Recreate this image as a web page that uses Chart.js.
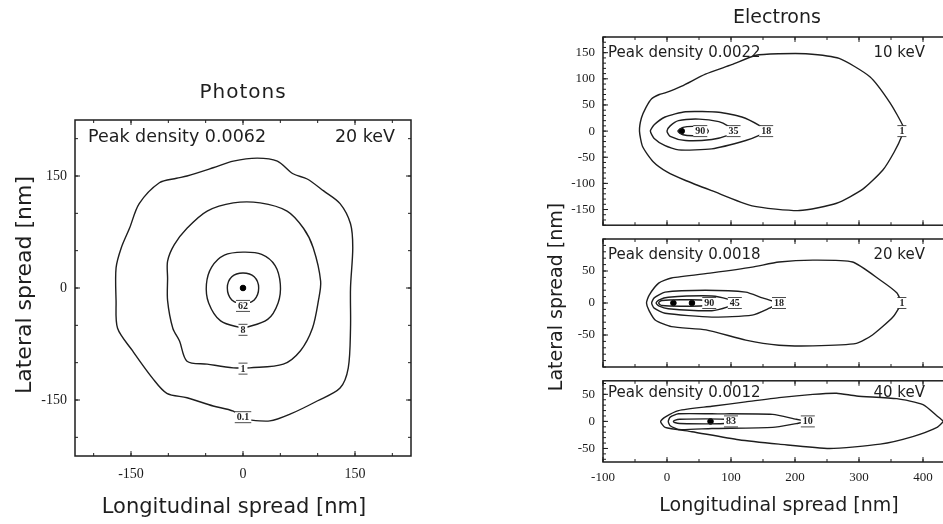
<!DOCTYPE html>
<html>
<head>
<meta charset="utf-8">
<title>Photons / Electrons spread</title>
<script src="https://cdn.jsdelivr.net/npm/chart.js@4.4.0/dist/chart.umd.min.js"></script>
<style>
  html, body { margin: 0; padding: 0; background: #fff; overflow: hidden; }
  body { width: 943px; height: 524px; position: relative; }
  canvas { position: absolute; }
</style>
</head>
<body>
<canvas id="photons" width="480" height="524" style="left:0;top:0"></canvas>
<canvas id="e10" width="520" height="241" style="left:463px;top:0"></canvas>
<canvas id="e20" width="520" height="300" style="left:463px;top:150px"></canvas>
<canvas id="e40" width="520" height="159" style="left:463px;top:365px"></canvas>
<script>
// ---- data (nm) ----

// Photons, 20 keV
const photonTicks = [-150, 0, 150];
const photonContour01 = [[0,-176],[-13,-165],[-40,-158],[-75,-147],[-102,-141],[-121,-121],[-148,-84],[-168,-54],[-170,-17],[-170,27],[-163,54],[-152,80],[-139,113],[-112,141],[-89,147],[-75,150],[-40,161],[-13,170],[19,174],[46,170],[67,153],[86,146],[108,130],[130,113],[144,86],[147,54],[144,0],[144,-54],[141,-107],[130,-134],[100,-151],[63,-169],[36,-178],[0,-176]];
const photonContour1 = [[0,-107],[-13,-107],[-48,-102],[-75,-98],[-85,-71],[-94,-54],[-101,-17],[-101,13],[-101,36],[-92,58],[-75,80],[-48,103],[-13,114],[23,114],[59,103],[81,80],[94,54],[104,9],[101,-17],[93,-54],[77,-84],[54,-102],[9,-107],[0,-107]];
const photonContour8 = [[0,-54],[-30,-44],[-46,-20],[-49,5],[-42,28],[-25,44],[0,48],[25,45],[43,30],[50,5],[47,-20],[33,-42],[0,-54]];
const photonContour62 = [[0,-22],[-15,-16],[-21,0],[-15,15],[0,20],[15,15],[21,0],[15,-16],[0,-22]];
const photonPeak = [[0, 0]];
const photonLabels = [['62', 0, -24], ['8', 0, -56], ['1', 0, -108], ['0.1', 0, -173]];

// Electrons
const electronXTicks = [-100, 0, 100, 200, 300, 400];
const e10YTicks = [-150, -100, -50, 0, 50, 100, 150];
const e20YTicks = [-50, 0, 50];
const e40YTicks = [-50, 0, 50];

// 10 keV
const e10Outer = [[367,0],[369,9],[348,55],[317,104],[269,139],[217,148],[175,148],[139,145],[101,127],[60,109],[23,86],[-3,73],[-12,70],[-24,62],[-33,45],[-40,25],[-43,0],[-38,-30],[-22,-58],[0,-78],[30,-95],[70,-114],[133,-143],[207,-152],[265,-138],[306,-111],[337,-75],[355,-40],[367,-9],[367,0]];
const e10Contour18 = [[155,0],[144,11],[117,27],[81,36],[29,37],[-3,27],[-20,12],[-26,0],[-20,-14],[-3,-28],[18,-36],[70,-34],[123,-18],[144,-8],[155,0]];
const e10Contour35 = [[104,0],[95,10],[81,18],[50,23],[18,20],[5,10],[0,0],[5,-10],[29,-18],[70,-16],[95,-8],[104,0]];
const e10Contour90 = [[65,0],[60,7],[40,9],[25,7],[17,0],[25,-7],[40,-9],[60,-7],[65,0]];
const e10Peak = [[23, 0]];
const e10Labels = [['90', 52, 0], ['35', 104, 0], ['18', 155, 0], ['1', 367, 0]];

// 20 keV
const e20Outer = [[367,0],[359,16],[333,36],[290,64],[228,67],[175,64],[133,56],[70,47],[7,39],[-13,31],[-28,12],[-32,0],[-28,-12],[-18,-27],[7,-37],[61,-42],[123,-58],[175,-66],[228,-67],[296,-63],[321,-50],[353,-22],[367,0]];
const e20Contour18 = [[175,0],[149,8],[123,17],[60,20],[-3,17],[-20,8],[-24,0],[-20,-8],[-3,-16],[70,-22],[133,-19],[160,-8],[175,0]];
const e20Contour45 = [[106,0],[95,6],[70,11],[2,9],[-12,5],[-17,0],[-12,-5],[2,-9],[70,-12],[95,-6],[106,0]];
const e20Contour90 = [[66,0],[62,4],[30,5],[-8,4],[-13,0],[-8,-4],[30,-5],[62,-4],[66,0]];
const e20Peak = [[39, 0], [10, 0]];
const e20Labels = [['90', 66, 0], ['45', 106, 0], ['18', 175, 0], ['1', 367, 0]];

// 40 keV
const e40Outer = [[432,0],[424,8],[400,31],[359,42],[296,47],[265,52],[228,50],[175,44],[123,36],[70,28],[18,20],[-3,8],[-10,0],[-3,-11],[39,-19],[112,-34],[175,-42],[254,-50],[333,-42],[384,-28],[422,-11],[432,0]];
const e40Contour10 = [[220,0],[202,4],[165,13],[70,14],[18,14],[5,8],[2,0],[5,-8],[18,-15],[70,-13],[165,-11],[202,-4],[220,0]];
const e40Contour83 = [[100,0],[90,4],[20,4],[12,2],[10,0],[12,-2],[20,-4],[90,-4],[100,0]];
const e40Peak = [[68, 0]];
const e40Labels = [['83', 100, 0], ['10', 220, 0]];

// ---- drawing ----
const INK = '#1e1e1e';
const SANS = '"DejaVu Sans", sans-serif';
const SERIF = '"Liberation Serif", serif';

function contour(points, tension) {
    return {
        data: points.map(([x, y]) => ({ x, y })),
        showLine: true,
        pointRadius: 0,
        borderColor: INK,
        borderWidth: 1.4,
        tension: tension,
        fill: false
    };
}

function peak(points) {
    return {
        data: points.map(([x, y]) => ({ x, y })),
        showLine: false,
        pointRadius: 2.8,
        backgroundColor: '#000',
        borderColor: '#000'
    };
}

function steps(min, max, step) {
    const out = [];
    for (let v = Math.ceil(min / step) * step; v <= max; v += step) out.push(v);
    return out;
}

// border, inward tick marks, contour labels and all the text
const decor = {
    id: 'decor',
    afterDatasetsDraw(chart, args, o) {
        const { ctx, chartArea: a, scales: { x, y } } = chart;
        ctx.save();

        // contour labels sit on a white patch that cuts the line
        ctx.font = 'bold 10px ' + SERIF;
        ctx.textAlign = 'center';
        ctx.textBaseline = 'middle';
        (o.labels || []).forEach(([t, vx, vy]) => {
            const px = x.getPixelForValue(vx), py = y.getPixelForValue(vy);
            const w = ctx.measureText(t).width + 4;
            ctx.fillStyle = '#fff';
            ctx.fillRect(px - w / 2, py - 5.5, w, 11);
            ctx.strokeStyle = INK;
            ctx.lineWidth = 0.8;
            ctx.beginPath();
            ctx.moveTo(px - w / 2, py - 5.5); ctx.lineTo(px + w / 2, py - 5.5);
            ctx.moveTo(px - w / 2, py + 5.5); ctx.lineTo(px + w / 2, py + 5.5);
            ctx.stroke();
            ctx.fillStyle = INK;
            ctx.fillText(t, px, py + 0.5);
        });

        // frame
        ctx.strokeStyle = INK;
        ctx.lineWidth = 1.5;
        ctx.strokeRect(a.left, a.top, a.width, a.height);

        // ticks pointing inward on all four sides
        ctx.lineWidth = 1;
        ctx.beginPath();
        const tickX = (vals, len) => vals.forEach(v => {
            const p = x.getPixelForValue(v);
            if (p < a.left || p > a.right) return;
            ctx.moveTo(p, a.bottom); ctx.lineTo(p, a.bottom - len);
            ctx.moveTo(p, a.top); ctx.lineTo(p, a.top + len);
        });
        const tickY = (vals, len) => vals.forEach(v => {
            const p = y.getPixelForValue(v);
            if (p < a.top || p > a.bottom) return;
            ctx.moveTo(a.left, p); ctx.lineTo(a.left + len, p);
            ctx.moveTo(a.right, p); ctx.lineTo(a.right - len, p);
        });
        tickX(o.xMajor, 5); tickX(o.xMinor, 3);
        tickY(o.yMajor, 5); tickY(o.yMinor, 3);
        ctx.stroke();

        // peak density / energy notes
        ctx.fillStyle = INK;
        ctx.textBaseline = 'middle';
        ctx.font = o.noteSize + 'px ' + SANS;
        ctx.textAlign = 'left';
        ctx.fillText(o.peakText, a.left + o.noteInset, a.top + o.noteDrop);
        ctx.textAlign = 'right';
        ctx.fillText(o.energyText, a.right - o.energyInset, a.top + o.noteDrop);

        // titles
        ctx.textAlign = 'center';
        if (o.title) {
            ctx.font = o.title.size + 'px ' + SANS;
            ctx.letterSpacing = (o.title.spacing || 0) + 'px';
            ctx.fillText(o.title.text, (a.left + a.right) / 2 + (o.title.dx || 0), a.top - o.title.rise);
            ctx.letterSpacing = '0px';
        }
        if (o.xTitle) {
            ctx.font = o.xTitle.size + 'px ' + SANS;
            ctx.fillText(o.xTitle.text, (a.left + a.right) / 2 + (o.xTitle.dx || 0), a.bottom + o.xTitle.drop);
        }
        if (o.yTitle) {
            ctx.font = o.yTitle.size + 'px ' + SANS;
            ctx.translate(a.left - o.yTitle.gap, (a.top + a.bottom) / 2 + (o.yTitle.dy || 0));
            ctx.rotate(-Math.PI / 2);
            ctx.fillText(o.yTitle.text, 0, 0);
        }
        ctx.restore();
    }
};

function makeChart(id, cfg) {
    const tickFont = { family: SERIF, size: cfg.tickSize };
    return new Chart(document.getElementById(id), {
        type: 'scatter',
        data: { datasets: cfg.datasets },
        options: {
            responsive: false,
            animation: false,
            events: [],
            layout: { padding: cfg.padding },
            scales: {
                x: {
                    type: 'linear',
                    min: cfg.xMin, max: cfg.xMax,
                    display: cfg.showX,
                    grid: { display: false, drawTicks: false },
                    border: { display: false },
                    afterBuildTicks: ax => { ax.ticks = cfg.xTicks.map(v => ({ value: v })); },
                    afterFit: ax => { ax.height = cfg.xHeight; },
                    ticks: { font: tickFont, color: '#1a1a1a', padding: cfg.xPad, maxRotation: 0, callback: v => String(v) }
                },
                y: {
                    type: 'linear',
                    min: cfg.yMin, max: cfg.yMax,
                    grid: { display: false, drawTicks: false },
                    border: { display: false },
                    afterBuildTicks: ax => { ax.ticks = cfg.yTicks.map(v => ({ value: v })); },
                    afterFit: ax => { ax.width = cfg.yWidth; },
                    ticks: { font: tickFont, color: '#1a1a1a', padding: 8, callback: v => String(v) }
                }
            },
            plugins: {
                legend: { display: false },
                tooltip: { enabled: false },
                decor: Object.assign({
                    xMajor: cfg.xTicks,
                    xMinor: steps(cfg.xMin, cfg.xMax, cfg.xMinorStep),
                    yMajor: cfg.yTicks,
                    yMinor: steps(cfg.yMin, cfg.yMax, cfg.yMinorStep)
                }, cfg.decor)
            }
        },
        plugins: [decor]
    });
}

// Photons panel
makeChart('photons', {
    datasets: [
        contour(photonContour01, 0.3), contour(photonContour1, 0.3),
        contour(photonContour8, 0.35), contour(photonContour62, 0.4),
        peak(photonPeak)
    ],
    padding: { left: 0, right: 69, top: 120, bottom: 0 },
    xMin: -225, xMax: 225, yMin: -225, yMax: 225,
    xTicks: photonTicks, yTicks: photonTicks,
    xMinorStep: 50, yMinorStep: 50,
    showX: true, xHeight: 68, xPad: 10, yWidth: 75, tickSize: 14,
    decor: {
        labels: photonLabels,
        peakText: 'Peak density 0.0062', energyText: '20 keV',
        noteSize: 17.5, noteInset: 13, energyInset: 16, noteDrop: 17,
        title: { text: 'Photons', size: 20, spacing: 1, rise: 27 },
        xTitle: { text: 'Longitudinal spread [nm]', size: 21, drop: 52, dx: -9 },
        yTitle: { text: 'Lateral spread [nm]', size: 22, gap: 50, dy: -3 }
    }
});

// Electrons panels (shared x range)
const eBase = {
    xMin: -100, xMax: 450, xTicks: electronXTicks,
    xMinorStep: 50, yWidth: 140, tickSize: 13, xPad: 8
};

makeChart('e10', Object.assign({}, eBase, {
    datasets: [
        contour(e10Outer, 0.2), contour(e10Contour18, 0.2),
        contour(e10Contour35, 0.25), contour(e10Contour90, 0.3),
        peak(e10Peak)
    ],
    padding: { left: 0, right: 28, top: 37, bottom: 2 },
    yMin: -180, yMax: 180, yTicks: e10YTicks, yMinorStep: 10,
    showX: false, xHeight: 0,
    decor: {
        labels: e10Labels,
        peakText: 'Peak density 0.0022', energyText: '10 keV',
        noteSize: 15, noteInset: 5, energyInset: 30, noteDrop: 16,
        title: { text: 'Electrons', size: 19, rise: 19, dx: -2 }
    }
}));

makeChart('e20', Object.assign({}, eBase, {
    datasets: [
        contour(e20Outer, 0.2), contour(e20Contour18, 0.2),
        contour(e20Contour45, 0.25), contour(e20Contour90, 0.3),
        peak(e20Peak)
    ],
    padding: { left: 0, right: 28, top: 89, bottom: 83 },
    yMin: -100, yMax: 100, yTicks: e20YTicks, yMinorStep: 10,
    showX: false, xHeight: 0,
    decor: {
        labels: e20Labels,
        peakText: 'Peak density 0.0018', energyText: '20 keV',
        noteSize: 15, noteInset: 5, energyInset: 30, noteDrop: 16,
        yTitle: { text: 'Lateral spread [nm]', size: 19, gap: 46, dy: -6 }
    }
}));

makeChart('e40', Object.assign({}, eBase, {
    datasets: [
        contour(e40Outer, 0.2), contour(e40Contour10, 0.2),
        contour(e40Contour83, 0.3), peak(e40Peak)
    ],
    padding: { left: 0, right: 28, top: 2, bottom: 0 },
    yMin: -75, yMax: 75, yTicks: e40YTicks, yMinorStep: 10,
    showX: true, xHeight: 62,
    decor: {
        labels: e40Labels,
        peakText: 'Peak density 0.0012', energyText: '40 keV',
        noteSize: 15, noteInset: 5, energyInset: 30, noteDrop: 12,
        xTitle: { text: 'Longitudinal spread [nm]', size: 19, drop: 44 }
    }
}));
</script>
</body>
</html>
